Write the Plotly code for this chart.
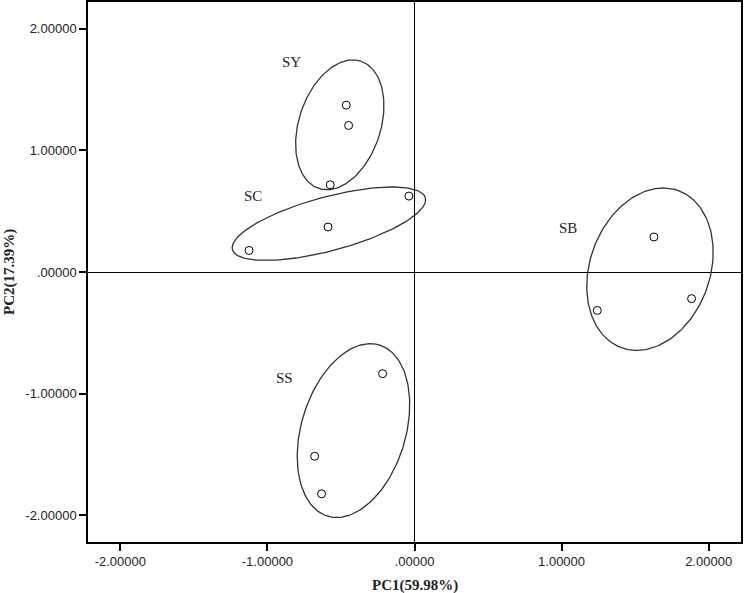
import numpy as np
import plotly.graph_objects as go

# PCA scores (PC1, PC2) for each group
groups = ["SY", "SC", "SS", "SB"]
pc1 = {
    "SY": [-0.464, -0.448, -0.573],
    "SC": [-0.038, -0.588, -1.125],
    "SS": [-0.217, -0.679, -0.632],
    "SB": [1.628, 1.884, 1.243],
}
pc2 = {
    "SY": [1.372, 1.205, 0.717],
    "SC": [0.624, 0.370, 0.177],
    "SS": [-0.836, -1.515, -1.824],
    "SB": [0.288, -0.219, -0.316],
}

# group ellipses: centre and two conjugate semi-axis vectors, all in data units
ell_center = {"SY": (-0.508, 1.210), "SC": (-0.582, 0.397), "SS": (-0.415, -1.304), "SB": (1.601, 0.023)}
ell_u = {"SY": (0.143, 0.523), "SC": (0.656, 0.213), "SS": (0.175, 0.704), "SB": (0.193, 0.646)}
ell_v = {"SY": (0.264, -0.105), "SC": (0.048, -0.214), "SS": (0.340, -0.123), "SB": (0.384, -0.168)}

# group label positions
label_x = {"SY": -0.833, "SC": -1.098, "SS": -0.886, "SB": 1.046}
label_y = {"SY": 1.730, "SC": 0.627, "SS": -0.871, "SB": 0.362}

tick_vals = [-2, -1, 0, 1, 2]
tick_text = ["-2.00000", "-1.00000", ".00000", "1.00000", "2.00000"]

x_title = "PC1(59.98%)"
y_title = "PC2(17.39%)"

fig = go.Figure()

t = np.linspace(0, 2 * np.pi, 200)
for g in groups:
    cx, cy = ell_center[g]
    ux, uy = ell_u[g]
    vx, vy = ell_v[g]
    fig.add_trace(go.Scatter(x=cx + ux * np.cos(t) + vx * np.sin(t),
                             y=cy + uy * np.cos(t) + vy * np.sin(t),
                             mode="lines", line=dict(color="#333333", width=1.3),
                             hoverinfo="skip", showlegend=False))

for g in groups:
    fig.add_trace(go.Scatter(x=pc1[g], y=pc2[g], mode="markers", name=g,
                             marker=dict(symbol="circle-open", size=8, color="black",
                                         line=dict(color="black", width=1)),
                             showlegend=False))
    fig.add_annotation(x=label_x[g], y=label_y[g], text=g, showarrow=False,
                       font=dict(family="Liberation Serif, Times New Roman, serif", size=15, color="#222"))

serif_bold = dict(family="Liberation Serif, Times New Roman, serif", size=15, color="#222")

# axis titles placed by hand so the plot area keeps the reference's margins
fig.add_annotation(text="<b>" + x_title + "</b>", xref="paper", yref="paper", x=0.5, y=-0.08,
                   xanchor="center", yanchor="middle", showarrow=False, font=serif_bold)
fig.add_annotation(text="<b>" + y_title + "</b>", xref="paper", yref="paper", x=-0.121, y=0.5,
                   xanchor="center", yanchor="middle", textangle=-90, showarrow=False, font=serif_bold)

axis_common = dict(range=[-2.22, 2.22], tickvals=tick_vals, ticktext=tick_text,
                   showgrid=False, zeroline=True, zerolinecolor="black", zerolinewidth=1,
                   showline=True, linecolor="black", linewidth=1.5, mirror=True,
                   ticks="outside", ticklen=7, tickcolor="black", tickwidth=1.5,
                   automargin=False,
                   tickfont=dict(family="Liberation Sans, Arial, sans-serif", size=13, color="#222"))

fig.update_layout(
    width=744, height=593,
    margin=dict(l=88, r=3, t=2, b=51),
    plot_bgcolor="white", paper_bgcolor="white",
    xaxis=axis_common,
    yaxis=axis_common,
)

# drop the page's default body margin so the figure sits at the window's corner
fig.write_html("out.html", config={"displayModeBar": False},
               post_script="document.body.style.margin='0';")
